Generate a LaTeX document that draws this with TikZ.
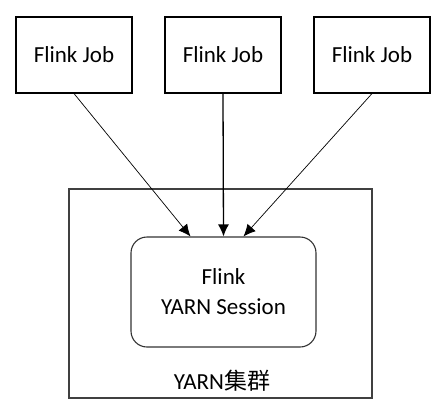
\documentclass[tikz,border=0pt]{standalone}
\usepackage{fontspec}
\setmainfont{Carlito}
\newfontfamily\cjk{Noto Sans CJK SC}
\usetikzlibrary{arrows.meta}

\tikzset{
  jobbox/.style={draw, line width=1.1pt, minimum width=116pt, minimum height=76pt, inner sep=0pt, font=\fontsize{23}{26}\selectfont},
  sessionbox/.style={draw=black!80, line width=1.1pt, rounded corners=16pt, minimum width=185pt, minimum height=110pt, inner sep=0pt, align=center, font=\fontsize{23}{30}\selectfont},
  clusterbox/.style={draw=black!75, line width=1.6pt, minimum width=303pt, minimum height=209pt, inner sep=0pt},
}

\begin{document}
\begin{tikzpicture}[x=1pt, y=-1pt]
            \useasboundingbox (0,0) rectangle (445,408);
            \begin{scope}
              \node[clusterbox] (cluster) at (220.5,293.5) {};
              \node[font=\fontsize{23}{26}\selectfont] (clusterlabel) at (222,381) {YARN{\cjk 集群}};
              \node[sessionbox] (session) at (223.5,292) {Flink\\YARN Session};
            \end{scope}
            \begin{scope}
              \node[jobbox] (job1) at (74,55) {Flink Job};
              \node[jobbox] (job2) at (223,55) {Flink Job};
              \node[jobbox] (job3) at (372,55) {Flink Job};
            \end{scope}
            \begin{scope}[-{Latex[length=12pt,width=11pt]}]
              \draw[line width=0.7pt] (job1.south) -- ([xshift=-33pt]session.north);
              \draw[line width=1.3pt] (job2.south) -- (session.north);
              \draw[line width=0.7pt] (job3.south) -- ([xshift=20pt]session.north);
            \end{scope}
          \end{tikzpicture}
\end{document}
